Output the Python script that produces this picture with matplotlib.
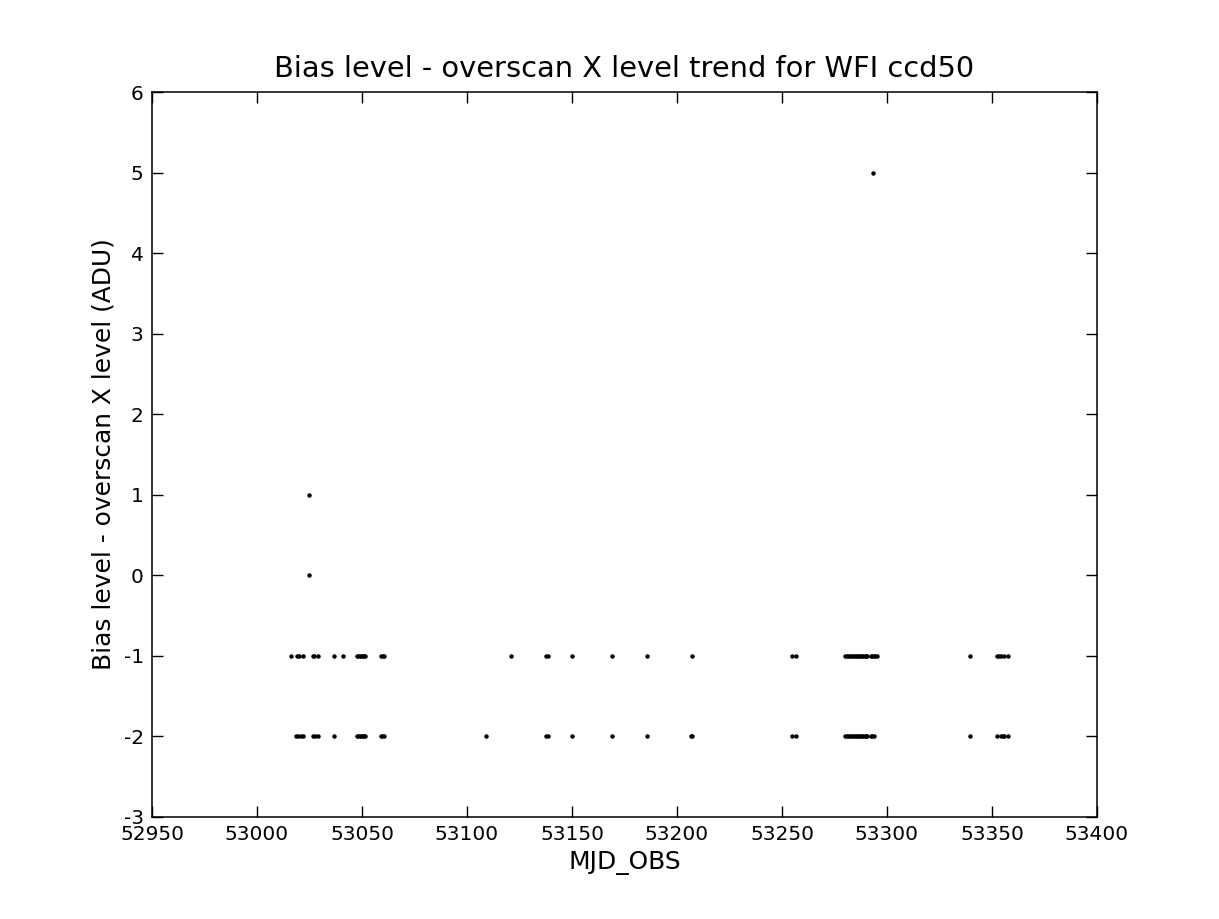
import matplotlib
matplotlib.use("Agg")
import matplotlib.pyplot as plt

plt.rcParams['axes.unicode_minus'] = False

# MJD values at level -1
mjd_m1 = [53016.0, 53018.9, 53020.0, 53021.8, 53026.5, 53027.2, 53029.2, 53036.8, 53040.8,
          53047.6, 53048.3, 53049.0, 53049.7, 53050.3, 53051.0, 53051.6, 53058.9, 53059.9, 53060.3,
          53121.0, 53137.8, 53138.5, 53149.9, 53168.9, 53185.9, 53207.0,
          53254.6, 53256.5,
          53280.2, 53280.9, 53281.6, 53282.3, 53283.0, 53283.7, 53284.4, 53285.1, 53285.8,
          53286.5, 53287.2, 53287.9, 53288.6, 53289.3, 53290.0, 53290.7,
          53292.3, 53293.0, 53293.7, 53294.4, 53295.1,
          53339.5, 53352.5, 53353.3, 53354.1, 53355.7, 53357.8]
lvl_m1 = [-1] * len(mjd_m1)

# MJD values at level -2
mjd_m2 = [53018.6, 53019.7, 53020.8, 53022.0, 53026.8, 53027.5, 53029.2, 53036.8,
          53047.6, 53048.3, 53049.0, 53049.7, 53050.3, 53051.0, 53051.6, 53058.9, 53059.6, 53060.3,
          53109.0, 53137.8, 53138.5, 53149.9, 53168.9, 53185.9, 53206.7, 53207.2,
          53254.6, 53256.5,
          53280.2, 53280.9, 53281.6, 53282.3, 53283.0, 53283.7, 53284.4, 53285.1, 53285.8,
          53286.5, 53287.2, 53287.9, 53288.6, 53289.3, 53290.0, 53290.7,
          53292.3, 53293.0, 53293.7,
          53339.5, 53352.5, 53354.1, 53355.2, 53355.9, 53357.8]
lvl_m2 = [-2] * len(mjd_m2)

# other points
mjd_other = [53024.9, 53024.9, 53293.3]
lvl_other = [1, 0, 5]

x = mjd_m1 + mjd_m2 + mjd_other
y = lvl_m1 + lvl_m2 + lvl_other

fig = plt.figure(figsize=(12.19, 9.19), dpi=100)
ax = fig.add_axes([152/1219, 1-817/919, 945/1219, 725/919])
ax.plot(x, y, linestyle='none', marker='o', markersize=3.2, color='black',
        markeredgewidth=0)
ax.set_xlim(52950, 53400)
ax.set_ylim(-3, 6)
ax.set_xticks(list(range(52950, 53401, 50)))
ax.set_yticks(list(range(-3, 7)))
ax.tick_params(direction='in', length=8, width=1, top=True, right=True,
               labelsize=14.5, pad=6)
for s in ax.spines.values():
    s.set_linewidth(1.1)
ax.set_xlabel('MJD_OBS', fontsize=17.9, labelpad=5)
ax.set_ylabel('Bias level - overscan X level (ADU)', fontsize=17.9, labelpad=6)
ax.set_title('Bias level - overscan X level trend for WFI ccd50', fontsize=20.8, pad=11)
fig.savefig('out.png', dpi=100)
